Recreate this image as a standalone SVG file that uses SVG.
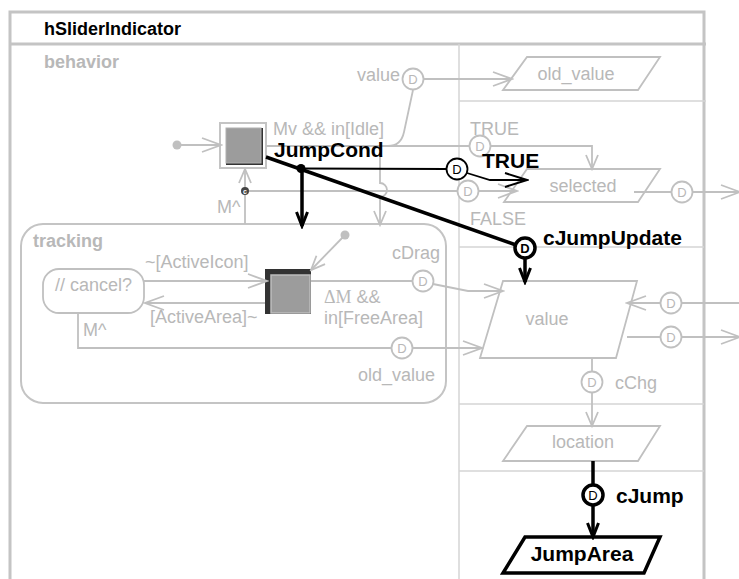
<svg xmlns="http://www.w3.org/2000/svg" width="739" height="579" viewBox="0 0 739 579">
  <defs>
    <style>
      .frame { fill: none; stroke: #c4c4c4; stroke-width: 3; }
      .lane { fill: none; stroke: #d4d4d4; stroke-width: 1.5; }
      .gl { fill: none; stroke: #c0c0c0; stroke-width: 1.8; }
      .bl { fill: none; stroke: #000; stroke-width: 3.5; }
      .bt { fill: none; stroke: #000; stroke-width: 1.8; }
      .gt { font-family: "Liberation Sans", Arial, sans-serif; font-size: 18px; fill: #b8b8b8; }
      .gb { font-family: "Liberation Sans", Arial, sans-serif; font-size: 18px; font-weight: bold; fill: #b8b8b8; }
      .bk { font-family: "Liberation Sans", Arial, sans-serif; font-size: 21px; font-weight: bold; fill: #000; }
      .mid { text-anchor: middle; }
      .dg circle { fill: #fff; stroke: #c0c0c0; stroke-width: 1.8; }
      .dg text { font-family: "Liberation Sans", Arial, sans-serif; font-size: 13px; fill: #b8b8b8; text-anchor: middle; }
      .db circle { fill: #fff; stroke: #000; }
      .db text { font-family: "Liberation Sans", Arial, sans-serif; font-size: 13px; fill: #000; text-anchor: middle; }
      .data { fill: #fff; stroke: #c0c0c0; stroke-width: 1.8; }
      .node rect.edge { fill: #fff; stroke: #c4c4c4; stroke-width: 2; }
    </style>
    <marker id="ag" viewBox="0 0 24 18" markerWidth="24" markerHeight="18" refX="22" refY="9" orient="auto" markerUnits="userSpaceOnUse">
      <path d="M3,2 L22,9 L3,16" fill="none" stroke="#c0c0c0" stroke-width="1.8"/>
    </marker>
    <marker id="agv" viewBox="0 0 18 14" markerWidth="18" markerHeight="14" refX="16" refY="7" orient="auto" markerUnits="userSpaceOnUse">
      <path d="M2,1 L16,7 L2,13" fill="none" stroke="#c0c0c0" stroke-width="1.8"/>
    </marker>
    <marker id="ab" viewBox="0 0 18 14" markerWidth="18" markerHeight="14" refX="15" refY="7" orient="auto" markerUnits="userSpaceOnUse">
      <path d="M1,1.5 L15,7 L1,12.5" fill="none" stroke="#000" stroke-width="3"/>
    </marker>
    <marker id="abt" viewBox="0 0 26 18" markerWidth="26" markerHeight="18" refX="24" refY="9" orient="auto" markerUnits="userSpaceOnUse">
      <path d="M2,2 L24,9 L2,16" fill="none" stroke="#000" stroke-width="2"/>
    </marker>
  </defs>

  <rect width="739" height="579" fill="#fff"/>

  <!-- outer frame and lanes -->
  <g id="frame">
    <path class="frame" d="M10,579 V12 H704 V579"/>
    <line class="frame" x1="10" y1="44" x2="706" y2="44"/>
    <text x="44" y="35" font-family="Liberation Sans, Arial, sans-serif" font-size="18" font-weight="bold" fill="#000">hSliderIndicator</text>
    <text class="gb" x="44" y="68">behavior</text>
    <line class="lane" x1="459" y1="44" x2="459" y2="579"/>
    <line class="lane" x1="459" y1="101" x2="706" y2="101"/>
    <line class="lane" x1="459" y1="247" x2="704" y2="247"/>
    <line class="lane" x1="459" y1="404" x2="704" y2="404"/>
    <line class="lane" x1="459" y1="471" x2="704" y2="471"/>
  </g>

  <!-- tracking state -->
  <g id="tracking">
    <rect x="21" y="224" width="425" height="179" rx="22" fill="none" stroke="#c4c4c4" stroke-width="2"/>
    <text class="gb" x="33" y="247">tracking</text>
  </g>

  <g id="cancel">
    <rect x="43" y="269" width="101" height="44" rx="16" fill="#fff" stroke="#c0c0c0" stroke-width="1.8"/>
    <text class="gt" x="55" y="291">// cancel?</text>
  </g>

  <!-- top state -->
  <g id="idle" class="node">
    <rect class="edge" x="220" y="123" width="46" height="45"/>
    <rect x="226" y="128" width="37" height="37" fill="#333"/>
    <rect x="226" y="128" width="35" height="35" fill="#9c9c9c" stroke="#b0b0b0" stroke-width="1"/>
  </g>

  <!-- drag state -->
  <g id="drag" class="node">
    <rect x="265" y="269" width="46" height="45" fill="#333"/>
    <rect x="271" y="275" width="39" height="38" fill="#9c9c9c" stroke="#bdbdbd" stroke-width="1.5"/>
  </g>

  <!-- data stores -->
  <g id="old_value">
    <polygon class="data" points="527,57 660,57 638,90 503,90"/>
    <text class="gt mid" x="576" y="80">old_value</text>
  </g>
  <g id="selected">
    <polygon class="data" points="527,169 660,169 638,202 504,202"/>
    <text class="gt mid" x="583" y="192">selected</text>
  </g>
  <g id="value">
    <polygon class="data" points="503,281 637,281 616,358 480,358"/>
    <text class="gt mid" x="547" y="325">value</text>
  </g>
  <g id="location">
    <polygon class="data" points="527,426 660,426 638,461 503,461"/>
    <text class="gt mid" x="583" y="448">location</text>
  </g>
  <g id="JumpArea">
    <polygon points="525,537 660,537 644,573 503,573" fill="#fff" stroke="#000" stroke-width="3.5" stroke-linejoin="miter"/>
    <text class="bk mid" x="582" y="561">JumpArea</text>
  </g>

  <!-- connectors -->
  <g id="connectors">
    <!-- grey flows -->
    <circle cx="177" cy="145" r="4.5" fill="#c0c0c0"/>
    <line class="gl" x1="177" y1="145" x2="221" y2="145" marker-end="url(#ag)"/>
    <line class="gl" x1="424" y1="79" x2="512" y2="79" marker-end="url(#ag)"/>
    <path class="gl" d="M413,90 L404,132 Q401,146 388,146"/>
    <line class="gl" x1="266" y1="146" x2="470" y2="146"/>
    <path class="gl" d="M490,146 H592 V169" marker-end="url(#agv)"/>
    <path class="gl" d="M380,146 V183 A7,7 0 0 1 380,197 V225" marker-end="url(#agv)"/>
    <line class="gl" x1="245" y1="224" x2="245" y2="169" marker-end="url(#agv)"/>
    <line class="gl" x1="245" y1="191" x2="458" y2="191"/>
    <line class="gl" x1="478" y1="191" x2="517" y2="191" marker-end="url(#ag)"/>
    <line class="gl" x1="634" y1="192" x2="672" y2="192"/>
    <line class="gl" x1="692" y1="192" x2="740" y2="192" marker-end="url(#ag)"/>
    <line class="gl" x1="345" y1="235" x2="311" y2="270" marker-end="url(#agv)"/>
    <circle cx="345" cy="235" r="4.5" fill="#c0c0c0"/>
    <line class="gl" x1="144" y1="281" x2="267" y2="281" marker-end="url(#ag)"/>
    <line class="gl" x1="265" y1="303" x2="145" y2="303" marker-end="url(#ag)"/>
    <line class="gl" x1="311" y1="281" x2="413" y2="281"/>
    <path class="gl" d="M433,284 L468,291 H503" marker-end="url(#ag)"/>
    <path class="gl" d="M78,313 V348 H392"/>
    <line class="gl" x1="412" y1="348" x2="482" y2="348" marker-end="url(#ag)"/>
    <line class="gl" x1="739" y1="303" x2="682" y2="303"/>
    <line class="gl" x1="661" y1="303" x2="627" y2="303" marker-end="url(#ag)"/>
    <line class="gl" x1="627" y1="337" x2="661" y2="337"/>
    <line class="gl" x1="682" y1="337" x2="740" y2="337" marker-end="url(#ag)"/>
    <line class="gl" x1="592" y1="358" x2="592" y2="372"/>
    <line class="gl" x1="592" y1="393" x2="592" y2="426" marker-end="url(#agv)"/>

    <!-- small connector dot -->
    <circle cx="245" cy="191" r="4" fill="#444"/>
    <text x="245" y="193.5" font-family="Liberation Sans, Arial, sans-serif" font-size="7" font-weight="bold" fill="#fff" text-anchor="middle">c</text>

    <!-- data-flow circles -->
    <g class="dg"><circle cx="413" cy="79" r="10.5"/><text x="413" y="84">D</text></g>
    <g class="dg"><circle cx="480" cy="146" r="10.5"/><text x="480" y="151">D</text></g>
    <g class="dg"><circle cx="468" cy="191" r="10.5"/><text x="468" y="196">D</text></g>
    <g class="dg"><circle cx="682" cy="192" r="10.5"/><text x="682" y="197">D</text></g>
    <g class="dg"><circle cx="423" cy="281" r="10.5"/><text x="423" y="286">D</text></g>
    <g class="dg"><circle cx="402" cy="348" r="10.5"/><text x="402" y="353">D</text></g>
    <g class="dg"><circle cx="671" cy="303" r="10.5"/><text x="671" y="308">D</text></g>
    <g class="dg"><circle cx="671" cy="337" r="10.5"/><text x="671" y="342">D</text></g>
    <g class="dg"><circle cx="592" cy="382" r="10.5"/><text x="592" y="387">D</text></g>

    <!-- black flows -->
    <line class="bl" x1="266" y1="157" x2="516" y2="245"/>
    <circle cx="301" cy="168.5" r="4.5" fill="#000"/>
    <line class="bt" x1="301" y1="168.5" x2="446" y2="169"/>
    <path class="bt" d="M467,173 L490,180 H527" marker-end="url(#abt)"/>
    <line class="bl" x1="302" y1="168" x2="302" y2="226" marker-end="url(#ab)"/>
    <line class="bl" x1="525" y1="258" x2="525" y2="282" marker-end="url(#ab)"/>
    <line class="bl" x1="593" y1="461" x2="593" y2="485"/>
    <line class="bl" x1="593" y1="505" x2="593" y2="537" marker-end="url(#ab)"/>
    <g class="db"><circle cx="457" cy="169" r="10.5" stroke-width="1.8"/><text x="457" y="174">D</text></g>
    <g class="db"><circle cx="525" cy="248" r="10" stroke-width="3.5"/><text x="525" y="253" font-weight="bold">D</text></g>
    <g class="db"><circle cx="593" cy="495" r="10" stroke-width="3.5"/><text x="593" y="500">D</text></g>
  </g>

  <!-- connector labels -->
  <g id="labels">
    <text class="gt" x="400" y="81" text-anchor="end">value</text>
    <text class="gt" x="273" y="135">Mv &amp;&amp; in[Idle]</text>
    <text class="gt" x="470" y="135">TRUE</text>
    <text class="gt" x="470" y="225">FALSE</text>
    <text class="gt" x="217" y="213">M^</text>
    <text class="gt" x="392" y="259">cDrag</text>
    <text class="gt" x="324" y="303"><tspan font-family="Liberation Serif, serif">ΔM</tspan> &amp;&amp;</text>
    <text class="gt" x="324" y="324">in[FreeArea]</text>
    <text class="gt" x="145" y="268">~[ActiveIcon]</text>
    <text class="gt" x="150" y="323">[ActiveArea]~</text>
    <text class="gt" x="83" y="336">M^</text>
    <text class="gt" x="358" y="381">old_value</text>
    <text class="gt" x="615" y="389">cChg</text>
    <text class="bk" x="274" y="157">JumpCond</text>
    <text class="bk" x="482" y="168" font-size="17">TRUE</text>
    <text class="bk" x="543" y="245">cJumpUpdate</text>
    <text class="bk" x="616" y="503">cJump</text>
  </g>
</svg>
